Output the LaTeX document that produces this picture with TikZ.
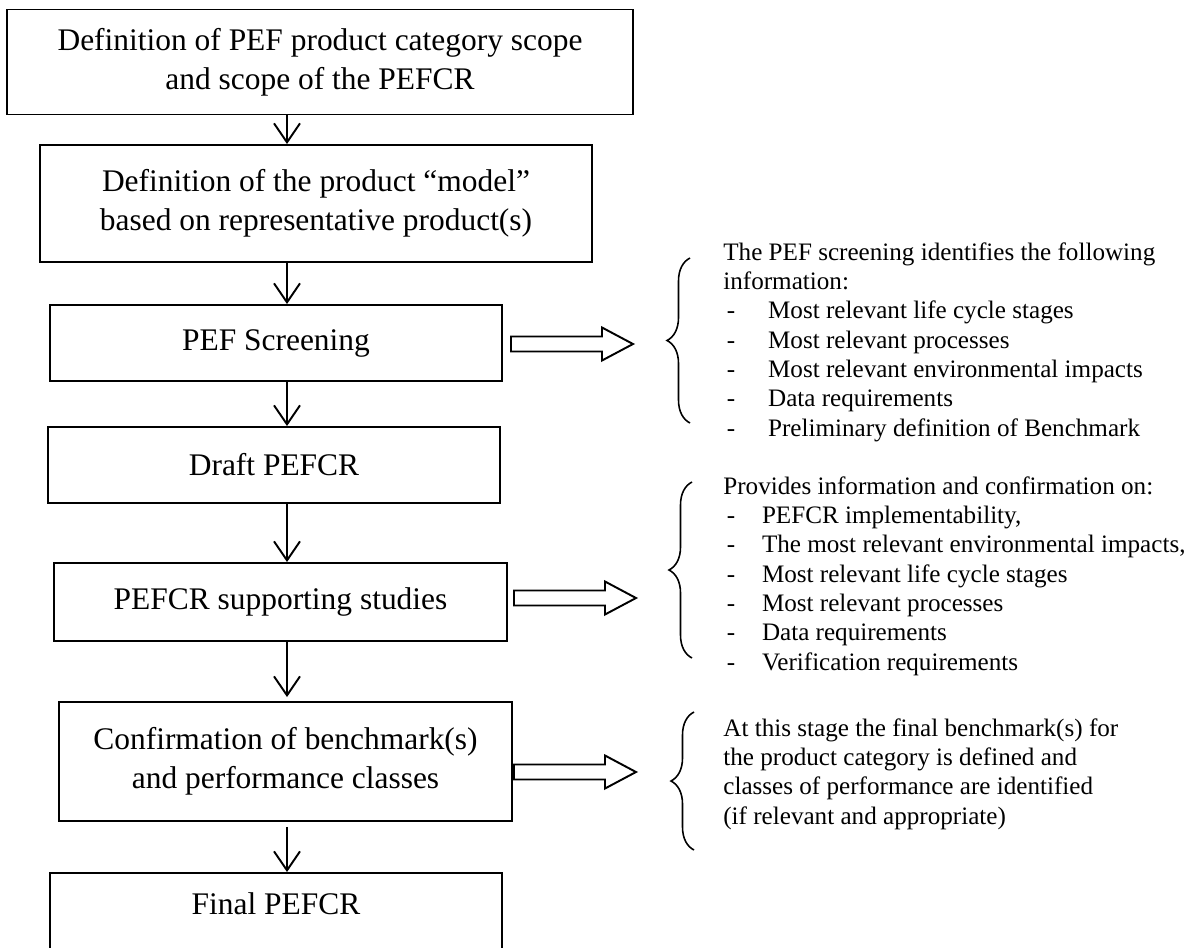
\documentclass[tikz,border=0pt]{standalone}
\usepackage{fontspec}
\setmainfont{Liberation Serif}
\usetikzlibrary{arrows.meta,positioning,decorations.pathreplacing}

\tikzset{
  stage/.style={rectangle, draw, line width=1.1pt, align=center, inner sep=0pt, font=\fontsize{17.9}{22.1}\selectfont},
  flow/.style={-{Straight Barb[length=0.38cm,width=0.52cm]}, line width=1.1pt},
  info/.style={align=left, inner sep=0pt, anchor=north west, font=\fontsize{14.3}{16.7}\selectfont},
  curly/.style={decorate, decoration={brace, amplitude=0.46cm}, line width=0.9pt},
  fat/.pic={\draw[line width=1.1pt] (0,-7.5) -- (91,-7.5) -- (91,-16.5) -- (122,0) -- (91,16.5) -- (91,7.5) -- (0,7.5) -- cycle;}
}
\newcommand{\itm}[2][25.5pt]{\makebox[#1][l]{\hspace{2pt}-}#2}

\begin{document}
\begin{tikzpicture}[x=0.02cm, y=-0.02cm]
    \clip (0,0) rectangle (1196,947);
    %% main flow
    \node[stage, minimum width=12.52cm, minimum height=2.1cm] (scope) at (320,62) {Definition of PEF product category scope\\and scope of the PEFCR};
    \node[stage, minimum width=11.04cm, minimum height=2.34cm] (model) at (316,203.5) {Definition of the product ``model''\\based on representative product(s)};
    \node[stage, minimum width=9.04cm, minimum height=1.52cm] (screen) at (276,343) {PEF Screening};
    \node[stage, minimum width=9.04cm, minimum height=1.52cm] (draft) at (274,465) {Draft PEFCR};
    \node[stage, minimum width=9.06cm, minimum height=1.56cm] (support) at (280.5,602) {PEFCR supporting studies};
    \node[stage, minimum width=9.06cm, minimum height=2.38cm] (bench) at (285.5,761.5) {Confirmation of benchmark(s)\\and performance classes};
    \node[stage, minimum width=9.04cm, minimum height=1.68cm, text depth=13pt] (final) at (276,915) {Final PEFCR};

    \coordinate (spine) at (287,0);
    \draw[flow] (scope.south -| spine) -- (model.north -| spine);
    \draw[flow] (model.south -| spine) -- (screen.north -| spine);
    \draw[flow] (screen.south -| spine) -- (draft.north -| spine);
    \draw[flow] (draft.south -| spine) -- (support.north -| spine);
    \draw[flow, shorten >=4*0.02cm] (support.south -| spine) -- (bench.north -| spine);
    \draw[flow, shorten <=5*0.02cm] (bench.south -| spine) -- (final.north -| spine);

    %% side notes
    \pic at (511,344) {fat};
    \pic at (514,598) {fat};
    \pic at (514,772) {fat};

    \draw[curly] (690,423) -- (690,258);
    \draw[curly] (692,658) -- (692,482);
    \draw[curly] (694,850) -- (694,712);

    \node[info] (note1) at (723,242) {The PEF screening identifies the following\\information:\\
        \itm{Most relevant life cycle stages}\\\itm{Most relevant processes}\\\itm{Most relevant environmental impacts}\\
        \itm{Data requirements}\\\itm{Preliminary definition of Benchmark}};
    \node[info] (note2) at (723,476) {Provides information and confirmation on:\\
        \itm[22pt]{PEFCR implementability,}\\\itm[22pt]{The most relevant environmental impacts,}\\
        \itm[22pt]{Most relevant life cycle stages}\\\itm[22pt]{Most relevant processes}\\
        \itm[22pt]{Data requirements}\\\itm[22pt]{Verification requirements}};
    \node[info] (note3) at (723,718) {At this stage the final benchmark(s) for\\the product category is defined and\\classes of performance are identified\\(if relevant and appropriate)};
\end{tikzpicture}
\end{document}
